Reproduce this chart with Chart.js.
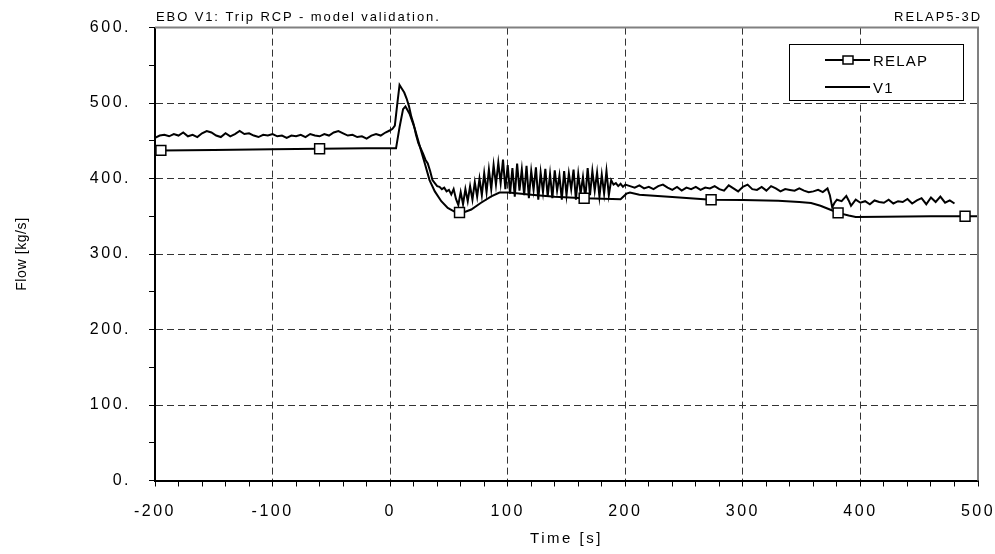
<!DOCTYPE html>
<html><head><meta charset="utf-8">
<script src="https://cdn.jsdelivr.net/npm/chart.js@4/dist/chart.umd.min.js"></script>
<style>html,body{margin:0;padding:0;background:#fff;}canvas{display:block;}</style>
</head><body>
<canvas id="c" width="995" height="554"></canvas>
<script>
const chartTitle = "EBO V1: Trip RCP - model validation.";
const codeLabel = "RELAP5-3D";
const xTitle = "Time [s]";
const yTitle = "Flow [kg/s]";
const seriesNames = ["RELAP", "V1"];

// RELAP calculation (smooth line with square markers)
const relapTime = [-200,-195,-150,-100,-60,-20,0,5,8,11,13,16.5,21,25,29.5,33.5,38,43.5,49,55,59,64,69,77,86,93,101,120,140,165,189,196,201,204,212,240,273,300,330,348,358,366,374,381,390,396,420,460,489,500];
const relapFlow = [437,437.3,438,438.8,439.5,440,440,440,468,492,495.5,486,466,444,420,398,383,370,361,356,355,356,359,367.6,376.4,381.5,381.5,378.5,376,374,373,372.5,380,381.5,378.5,375.5,372,371.5,370.5,369,367.5,364,359,354.5,351,349,349.5,350,350,350];
const relapMarkerTimes = [-195,-60,59,165,273,381,489];

// V1 measurement (noisy line)
const v1Time = [-200,-196,-192,-188,-184,-180,-176,-172,-168,-164,-160,-156,-152,-148,-144,-140,-136,-132,-128,-124,-120,-116,-112,-108,-104,-100,-96,-92,-88,-84,-80,-76,-72,-68,-64,-60,-56,-52,-48,-44,-40,-36,-32,-28,-24,-20,-16,-12,-8,-4,0,
2,4,6,8,10,12,14,16,18,20,22,24,26,28,30,32,34,36,38,40,42,44,46,48,50,52,54,56,58,60,62,64,66,68,70,72,74,76,78,80,82,84,86,88,90,92,94,96,98,
100,102,104,106,108,110,112,114,116,118,120,122,124,126,128,130,132,134,136,138,140,142,144,146,148,150,152,154,156,158,160,162,164,166,168,170,172,174,176,178,180,182,184,186,188,190,192,194,196,198,200,
204,208,212,216,220,224,228,232,236,240,244,248,252,256,260,264,268,272,276,280,284,288,292,296,300,304,308,312,316,320,324,328,332,336,340,344,348,352,356,360,364,368,372,
374,376,378,380,384,388,390,392,396,400,404,408,412,416,420,424,428,432,436,440,444,448,452,456,460,464,468,472,476,480];
const v1Flow = [454,457,458,456,459,457,461,456,458,455,460,463,461,457,455,460,456,459,463,459,460,457,455,458,457,459,456,457,454,457,456,458,455,459,457,456,459,457,461,463,460,457,458,455,456,453,457,459,457,461,464,
466,470,498,524,519,514,506,496,482,472,458,447,440,433,425,420,410,398,394,390,389,386,388,383,385,379,386,373,365,382,366,386,370,390,372,395,376,400,378,407,382,412,386,418,392,421,394,425,386,
418,380,414,376,420,384,412,378,417,374,410,385,415,372,408,382,413,376,406,374,411,384,404,372,410,378,407,386,412,372,406,380,402,374,414,378,410,384,408,376,405,380,410,378,398,392,394,390,393,389,392,
390,388,391,387,389,386,390,392,388,385,389,384,388,386,389,385,388,387,390,386,384,391,387,383,389,392,386,385,389,384,390,387,383,386,385,384,387,384,382,383,385,382,387,
378,362,368,372,370,377,371,364,372,368,370,366,371,369,368,372,367,370,369,373,367,371,374,366,375,369,376,368,371,367];

const xMin = -200, xMax = 500, xMinorStep = 20, xMajorStep = 100;
const yMin = 0, yMax = 600, yMinorStep = 50, yMajorStep = 100;

const relapData = relapTime.map((t, i) => ({x: t, y: relapFlow[i]}));
const v1Data = v1Time.map((t, i) => ({x: t, y: v1Flow[i]}));

const FONT = '"Liberation Sans", Arial, sans-serif';

const framePlugin = {
  id: 'frame',
  beforeUpdate(chart) { chart.ctx.letterSpacing = '2.5px'; },
  beforeDraw(chart) { chart.ctx.letterSpacing = '2.5px'; },
  afterDraw(chart) {
    const ctx = chart.ctx, a = chart.chartArea;
    ctx.save();
    ctx.letterSpacing = '0px';
    // top & right frame
    ctx.strokeStyle = '#808080'; ctx.lineWidth = 2; ctx.setLineDash([]);
    ctx.beginPath(); ctx.moveTo(a.left, a.top); ctx.lineTo(a.right, a.top); ctx.lineTo(a.right, a.bottom); ctx.stroke();
    // header texts
    ctx.fillStyle = '#000';
    ctx.font = '13px ' + FONT;
    ctx.letterSpacing = '1.9px';
    ctx.textBaseline = 'alphabetic';
    ctx.textAlign = 'left';
    ctx.fillText(chartTitle, a.left + 1, 20.5);
    ctx.textAlign = 'right';
    ctx.fillText(codeLabel, a.right + 4, 20.5);
    // y title
    ctx.save();
    ctx.letterSpacing = '0.6px';
    ctx.font = '14px ' + FONT;
    ctx.translate(22, (a.top + a.bottom) / 2);
    ctx.rotate(-Math.PI / 2);
    ctx.textAlign = 'center'; ctx.textBaseline = 'middle';
    ctx.fillText(yTitle, 0, 0);
    ctx.restore();
    // legend
    const bx = 789, by = 44, bw = 174, bh = 56;
    ctx.fillStyle = '#fff';
    ctx.fillRect(bx, by, bw, bh);
    ctx.strokeStyle = '#000'; ctx.lineWidth = 1;
    ctx.strokeRect(bx + 0.5, by + 0.5, bw, bh);
    const ds = chart.data.datasets;
    const rows = [60, 87];
    ds.forEach((d, i) => {
      const y = rows[i];
      ctx.strokeStyle = '#000'; ctx.lineWidth = 2;
      ctx.beginPath(); ctx.moveTo(825, y); ctx.lineTo(870, y); ctx.stroke();
      if (i === 0) {
        ctx.fillStyle = '#fff'; ctx.lineWidth = 1.5;
        ctx.fillRect(843, y - 4, 10, 8);
        ctx.strokeRect(843, y - 4, 10, 8);
      }
      ctx.fillStyle = '#000';
      ctx.font = '15px ' + FONT;
      ctx.letterSpacing = '1.2px';
      ctx.textAlign = 'left'; ctx.textBaseline = 'alphabetic';
      ctx.fillText(d.label, 873, y + 5.5);
    });
    ctx.restore();
  }
};

new Chart(document.getElementById('c'), {
  type: 'line',
  data: {
    datasets: [
      {
        label: seriesNames[0],
        data: relapData,
        borderColor: '#000',
        borderWidth: 2,
        backgroundColor: '#fff',
        pointStyle: 'rect',
        pointRadius: (c) => (c.raw && relapMarkerTimes.includes(c.raw.x)) ? 7 : 0,
        pointBorderWidth: 1.5,
        pointBorderColor: '#000',
        pointBackgroundColor: '#fff',
        tension: 0,
        fill: false
      },
      {
        label: seriesNames[1],
        data: v1Data,
        borderColor: '#000',
        borderWidth: 2,
        pointRadius: 0,
        tension: 0,
        fill: false
      }
    ]
  },
  options: {
    responsive: false,
    animation: false,
    devicePixelRatio: 1,
    layout: { padding: { left: 0, right: 17, top: 24, bottom: 0 } },
    plugins: { legend: { display: false }, tooltip: { enabled: false }, title: { display: false } },
    scales: {
      x: {
        type: 'linear', min: xMin, max: xMax,
        afterFit(s) { s.height = 554 - 480.5; s.paddingLeft = 0; s.paddingRight = 0; },
        ticks: {
          stepSize: xMinorStep, autoSkip: false, maxRotation: 0, minRotation: 0,
          padding: 15, color: '#000', font: { family: FONT, size: 16 },
          callback: (v) => (v % xMajorStep === 0 ? String(v) : '')
        },
        grid: {
          color: (c) => (c.tick && c.tick.value % xMajorStep === 0 && c.tick.value !== xMin && c.tick.value !== xMax) ? '#333' : 'rgba(0,0,0,0)',
          lineWidth: 1, tickLength: 6, tickColor: '#000', tickWidth: 1, tickBorderDash: []
        },
        border: { display: true, color: '#000', width: 2, dash: [7, 4] },
        title: { display: true, text: xTitle, color: '#000', font: { family: FONT, size: 15 }, padding: { top: 0, bottom: 6 } }
      },
      y: {
        type: 'linear', min: yMin, max: yMax,
        afterFit(s) { s.width = 155; },
        ticks: {
          stepSize: yMinorStep, autoSkip: false,
          padding: 18, color: '#000', font: { family: FONT, size: 16 },
          callback: (v) => (v % yMajorStep === 0 ? v + '.' : '')
        },
        grid: {
          color: (c) => (c.tick && c.tick.value % yMajorStep === 0 && c.tick.value !== yMin && c.tick.value !== yMax) ? '#333' : 'rgba(0,0,0,0)',
          lineWidth: 1, tickLength: 6, tickColor: '#000', tickWidth: 1, tickBorderDash: []
        },
        border: { display: true, color: '#000', width: 2, dash: [7, 4] },
        title: { display: false, text: yTitle }
      }
    }
  },
  plugins: [framePlugin]
});
</script>
</body></html>
